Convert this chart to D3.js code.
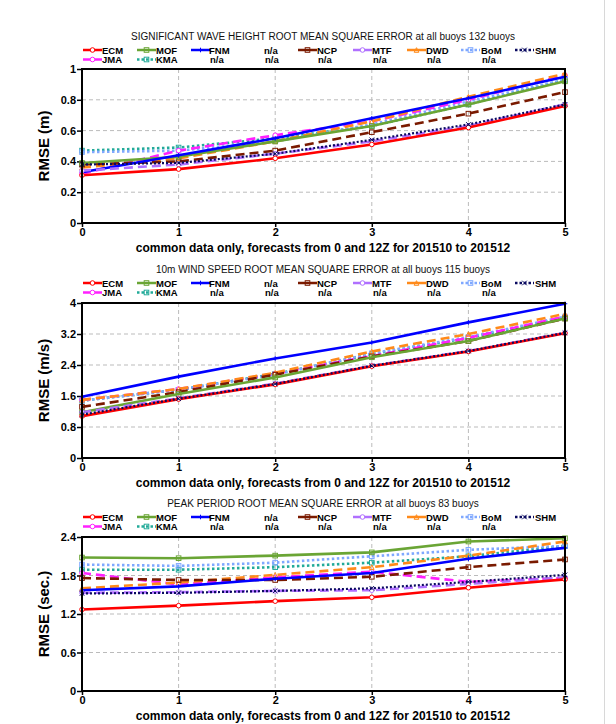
<!DOCTYPE html>
<html><head><meta charset="utf-8">
<script src="https://cdn.jsdelivr.net/npm/d3@7"></script>
<style>body{margin:0;background:#fff}svg{display:block}</style>
</head><body>
<script>
const leadDays = [0,1,2,3,4,5];
const models = ["ECM","MOF","FNM","NCP","MTF","DWD","BoM","SHM","JMA","KMA"];

// Significant wave height RMSE (m)
const hsECM = [0.31,0.35,0.42,0.51,0.62,0.76];
const hsMOF = [0.39,0.43,0.53,0.63,0.77,0.92];
const hsFNM = [0.33,0.44,0.55,0.68,0.81,0.95];
const hsNCP = [0.38,0.40,0.47,0.59,0.71,0.85];
const hsMTF = [0.34,0.38,0.45,0.53,0.63,0.77];
const hsDWD = [0.36,0.42,0.53,0.66,0.82,0.97];
const hsBoM = [0.46,0.47,0.53,0.64,0.79,0.93];
const hsSHM = [0.38,0.39,0.45,0.54,0.64,0.77];
const hsJMA = [0.32,0.47,0.57,0.66,0.80,0.96];
const hsKMA = [0.47,0.49,0.55,0.63,0.77,0.93];

// 10m wind speed RMSE (m/s)
const wsECM = [1.08,1.52,1.90,2.37,2.75,3.22];
const wsMOF = [1.18,1.65,2.08,2.60,3.02,3.60];
const wsFNM = [1.58,2.10,2.57,2.98,3.50,3.98];
const wsNCP = [1.32,1.70,2.15,2.62,3.02,3.60];
const wsMTF = [1.18,1.54,1.92,2.38,2.76,3.23];
const wsDWD = [1.50,1.78,2.20,2.75,3.20,3.72];
const wsBoM = [1.48,1.76,2.15,2.70,3.12,3.65];
const wsSHM = [1.12,1.53,1.91,2.38,2.76,3.23];
const wsJMA = [1.50,1.78,2.18,2.63,3.10,3.65];
const wsKMA = [1.48,1.76,2.17,2.68,3.10,3.62];

// Peak period RMSE (sec.)
const tpECM = [1.27,1.33,1.40,1.46,1.61,1.74];
const tpMOF = [2.08,2.07,2.11,2.16,2.33,2.38];
const tpFNM = [1.57,1.63,1.75,1.84,2.06,2.23];
const tpNCP = [1.76,1.73,1.73,1.78,1.93,2.05];
const tpMTF = [1.53,1.54,1.56,1.57,1.67,1.77];
const tpDWD = [1.60,1.69,1.81,1.93,2.11,2.33];
const tpBoM = [1.97,1.95,2.00,2.10,2.20,2.26];
const tpSHM = [1.52,1.53,1.56,1.60,1.70,1.81];
const tpJMA = [1.84,1.66,1.77,1.86,1.70,1.76];
const tpKMA = [1.89,1.89,1.93,2.00,2.10,2.26];

const hsTicks = [0,0.2,0.4,0.6,0.8,1];
const wsTicks = [0,0.8,1.6,2.4,3.2,4];
const tpTicks = [0,0.6,1.2,1.8,2.4];

const titles = ["SIGNIFICANT WAVE HEIGHT ROOT MEAN SQUARE ERROR at all buoys 132 buoys",
                "10m WIND SPEED ROOT MEAN SQUARE ERROR at all buoys 115 buoys",
                "PEAK PERIOD ROOT MEAN SQUARE ERROR at all buoys 83 buoys"];
const yLabels = ["RMSE (m)","RMSE (m/s)","RMSE (sec.)"];
const xLabel = "common data only, forecasts from 0 and 12Z for 201510 to 201512";

const style = {
  ECM:{c:"#ff0000",d:null,m:"circle"},
  MOF:{c:"#6aa535",d:null,m:"square"},
  FNM:{c:"#0000ff",d:null,m:"plus"},
  NCP:{c:"#7a1a00",d:"9,5",m:"square"},
  MTF:{c:"#b070ff",d:"9,5",m:"circle"},
  DWD:{c:"#ff8a1a",d:"9,5",m:"tri"},
  BoM:{c:"#7fa8ff",d:"2.5,2.5",m:"square"},
  SHM:{c:"#0a0a60",d:"2,2",m:"x"},
  JMA:{c:"#ff20ff",d:"9,5",m:"circle"},
  KMA:{c:"#22aa99",d:"2.5,2.5",m:"square"}
};

const panels = [
  {data:{ECM:hsECM,MOF:hsMOF,FNM:hsFNM,NCP:hsNCP,MTF:hsMTF,DWD:hsDWD,BoM:hsBoM,SHM:hsSHM,JMA:hsJMA,KMA:hsKMA}, ticks:hsTicks, max:1, top:69, bottom:223, titleY:40},
  {data:{ECM:wsECM,MOF:wsMOF,FNM:wsFNM,NCP:wsNCP,MTF:wsMTF,DWD:wsDWD,BoM:wsBoM,SHM:wsSHM,JMA:wsJMA,KMA:wsKMA}, ticks:wsTicks, max:4, top:303, bottom:458, titleY:273},
  {data:{ECM:tpECM,MOF:tpMOF,FNM:tpFNM,NCP:tpNCP,MTF:tpMTF,DWD:tpDWD,BoM:tpBoM,SHM:tpSHM,JMA:tpJMA,KMA:tpKMA}, ticks:tpTicks, max:2.4, top:537, bottom:691, titleY:507}
];

const W=616,H=724,left=82,right=565;
const svg = d3.select("body").append("svg").attr("width",W).attr("height",H)
  .style("font-family","Liberation Sans, Arial, sans-serif");
svg.append("line").attr("x1",604.5).attr("x2",604.5).attr("y1",0).attr("y2",H).attr("stroke","#d8d8d8");

const x = d3.scaleLinear().domain([0,5]).range([left,right]);

// legend layout
const legRow1 = [
  {name:"ECM",lx:83,tx:102},{name:"MOF",lx:137,tx:156},{name:"FNM",lx:191,tx:209},
  {name:null,tx:264},{name:"NCP",lx:298,tx:317},{name:"MTF",lx:353,tx:372},
  {name:"DWD",lx:407,tx:426},{name:"BoM",lx:461,tx:481},{name:"SHM",lx:515,tx:535}];
const legRow2 = [{name:"JMA",lx:83,tx:102},{name:"KMA",lx:137,tx:156}];
const naRow2 = [209,264,317,372,426,481];

function marker(g, type, cx, cy, col){
  const s=2.3;
  if(type==="circle") g.append("circle").attr("cx",cx).attr("cy",cy).attr("r",s).attr("fill","#fff").attr("stroke",col).attr("stroke-width",1);
  else if(type==="square") g.append("rect").attr("x",cx-s).attr("y",cy-s).attr("width",2*s).attr("height",2*s).attr("fill","none").attr("stroke",col).attr("stroke-width",1);
  else if(type==="tri") g.append("path").attr("d",`M${cx-s},${cy+s}L${cx},${cy-s}L${cx+s},${cy+s}Z`).attr("fill","none").attr("stroke",col).attr("stroke-width",1);
  else if(type==="x") g.append("path").attr("d",`M${cx-s},${cy-s}L${cx+s},${cy+s}M${cx-s},${cy+s}L${cx+s},${cy-s}`).attr("stroke",col).attr("stroke-width",1);
  else if(type==="plus") g.append("path").attr("d",`M${cx-s},${cy}L${cx+s},${cy}M${cx},${cy-s}L${cx},${cy+s}`).attr("stroke",col).attr("stroke-width",1);
}

panels.forEach((p,i)=>{
  const g = svg.append("g");
  const y = d3.scaleLinear().domain([0,p.max]).range([p.bottom,p.top]);
  g.append("text").attr("x",323).attr("y",p.titleY).attr("text-anchor","middle")
    .attr("font-size",10).attr("fill","#111").text(titles[i]);
  const r1 = p.titleY+13.5, r2 = p.titleY+23;
  const drawLeg=(items,ry)=>items.forEach(it=>{
    if(it.name){
      const st=style[it.name];
      g.append("line").attr("x1",it.lx).attr("x2",it.lx+19).attr("y1",ry-3.5).attr("y2",ry-3.5)
        .attr("stroke",st.c).attr("stroke-width",2.5).attr("stroke-dasharray",(st.d==="2.5,2.5"||st.d==="2,2")?"2.5,2":null);
      marker(g,st.m,it.lx+9.5,ry-3.5,st.c);
      g.append("text").attr("x",it.tx).attr("y",ry).attr("font-size",9.5).attr("font-weight","bold").text(it.name);
    } else {
      g.append("text").attr("x",it.tx).attr("y",ry).attr("font-size",9.5).attr("font-weight","bold").text("n/a");
    }
  });
  drawLeg(legRow1,r1);
  drawLeg(legRow2,r2);
  naRow2.forEach(tx=>g.append("text").attr("x",tx+1).attr("y",r2).attr("font-size",9.5).attr("font-weight","bold").text("n/a"));

  g.append("g").selectAll("line").data(p.ticks.filter(t=>t>0&&t<p.max)).join("line")
    .attr("x1",left).attr("x2",right).attr("y1",d=>y(d)).attr("y2",d=>y(d))
    .attr("stroke","#bbb").attr("stroke-dasharray","4,3").attr("stroke-width",1);
  g.append("g").selectAll("line").data(leadDays.filter(d=>d>0&&d<5)).join("line")
    .attr("x1",d=>x(d)).attr("x2",d=>x(d)).attr("y1",p.top).attr("y2",p.bottom)
    .attr("stroke","#bbb").attr("stroke-dasharray","4,3").attr("stroke-width",1);

  const ya = g.append("g").attr("transform",`translate(${left},0)`)
    .call(d3.axisLeft(y).tickValues(p.ticks).tickFormat(d3.format("~g")).tickSize(5).tickSizeOuter(0));
  ya.select(".domain").remove();
  ya.selectAll("text").attr("font-size",11).attr("font-weight","bold").attr("fill","#000").attr("dx","2").attr("font-family","Liberation Sans, Arial, sans-serif");
  ya.selectAll("line").attr("stroke","#000").attr("stroke-width",1.5);
  const xa = g.append("g").attr("transform",`translate(0,${p.bottom})`)
    .call(d3.axisBottom(x).tickValues(leadDays).tickFormat(d3.format("d")).tickSize(4).tickSizeOuter(0));
  xa.select(".domain").remove();
  xa.selectAll("text").attr("font-size",11).attr("font-weight","bold").attr("fill","#000").attr("dy","0.55em").attr("font-family","Liberation Sans, Arial, sans-serif");
  xa.selectAll("line").attr("stroke","#000").attr("stroke-width",1.5);

  const order = ["KMA","BoM","JMA","DWD","NCP","MOF","FNM","MTF","ECM","SHM"];
  const lineGen = d3.line().x((d,j)=>x(leadDays[j])).y(d=>y(d));
  order.forEach(m=>{
    const st=style[m], vals=p.data[m];
    g.append("path").datum(vals).attr("d",lineGen).attr("fill","none")
      .attr("stroke",st.c).attr("stroke-width",m==="SHM"?2.2:2.6).attr("stroke-dasharray",st.d);
    vals.forEach((v,j)=>marker(g,st.m,x(leadDays[j]),y(v),st.c));
  });

  g.append("rect").attr("x",left).attr("y",p.top).attr("width",right-left).attr("height",p.bottom-p.top)
    .attr("fill","none").attr("stroke","#000").attr("stroke-width",2);

  g.append("text").attr("transform",`translate(49,${(p.top+p.bottom)/2}) rotate(-90)`)
    .attr("text-anchor","middle").attr("font-size",15).attr("font-weight","bold").text(yLabels[i]);
  g.append("text").attr("x",323).attr("y",p.bottom+29).attr("text-anchor","middle")
    .attr("font-size",12).attr("font-weight","bold").text(xLabel);
});
</script>
</body></html>
